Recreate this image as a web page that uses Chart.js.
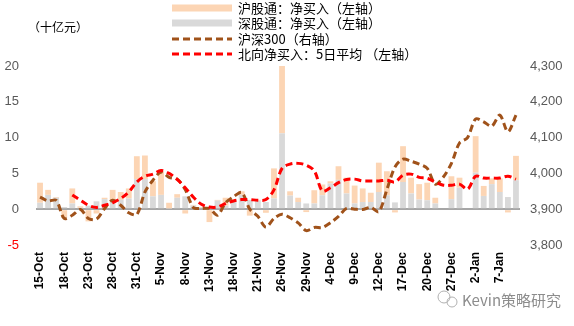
<!DOCTYPE html>
<html>
<head>
<meta charset="utf-8">
<script src="https://cdn.jsdelivr.net/npm/chart.js@4.4.0/dist/chart.umd.min.js"></script>
<style>
html, body { margin: 0; padding: 0; background: #fff; }
#wrap { position: relative; width: 574px; height: 326px; }
</style>
</head>
<body>
<div id="wrap"><canvas id="northChart"></canvas></div>
<script>
// Fechas de negociación (Stock Connect abierto)
const fechas = [
  '15-Oct','16-Oct','17-Oct','18-Oct','21-Oct','22-Oct','23-Oct','24-Oct','25-Oct','28-Oct','29-Oct','30-Oct','31-Oct',
  '1-Nov','4-Nov','5-Nov','6-Nov','7-Nov','8-Nov','11-Nov','12-Nov','13-Nov','14-Nov','15-Nov','18-Nov','19-Nov','20-Nov',
  '21-Nov','22-Nov','25-Nov','26-Nov','27-Nov','28-Nov','29-Nov',
  '2-Dec','3-Dec','4-Dec','5-Dec','6-Dec','9-Dec','10-Dec','11-Dec','12-Dec','13-Dec','16-Dec','17-Dec','18-Dec','19-Dec',
  '20-Dec','23-Dec','24-Dec','27-Dec','30-Dec','31-Dec',
  '2-Jan','3-Jan','6-Jan','7-Jan','8-Jan','9-Jan'
];

// 深股通 净买入 (十亿元)
const szNet = [
  0.9, 2.0, 1.6, 0.3, 0.8, 0.2, 0.5, 1.1, 1.4, 1.0, 1.3, 1.5, 4.2,
  4.2, 1.8, 2.0, 0.1, 1.6, 1.8, 0.5, 0.2, 0.1, 1.2, 0.5, 1.3, 2.0, 1.3,
  1.2, 1.0, 1.5, 10.6, 1.9, 1.0, 0.8,
  0.8, 1.95, 3.6, 4.1, 2.2, 0.8, 1.0, 1.0, 2.4, 1.95, 0.95, 3.8, 2.2, 1.35,
  1.25, 0.8, null, 1.4, 3.0, null,
  5.1, 1.85, 3.5, 2.4, 1.7, 4.05
];

// 沪股通 净买入 (十亿元)
const shNet = [
  2.8, 0.7, 0.1, -1.2, 2.1, 0.2, -1.7, -0.6, 0.2, 1.7, 1.1, 1.4, 3.2,
  3.3, 2.1, 3.2, 0.8, 0.5, -0.6, 0.1, 0.1, -1.8, 0.1, 1.1, 0.1, 0.5, -0.9,
  0.1, -0.5, 4.2, 9.4, 0.6, 0.6, -0.4,
  1.85, 1.5, 0.3, 1.9, 2.2, 2.5, 1.9, 1.3, 4.1, 3.35, -0.45, 5.0, 2.2, 2.15,
  2.45, 0.8, null, 3.2, 1.4, null,
  5.1, 1.4, 0.8, 1.9, -0.45, 3.4
];

// 北向净买入 5日平均 (十亿元)
const north5d = [
  null, null, null, null, 2.0, 1.25, 0.55, 0.25, 0.55, 0.9, 1.5, 2.4, 3.8,
  4.6, 4.9, 5.4, 5.0, 4.15, 3.0, 1.7, 0.7, 0.3, 0.3, 0.8, 1.15, 1.35, 1.35,
  1.25, 1.35, 2.7, 5.7, 6.3, 6.4, 6.15,
  5.35, 2.55, 3.0, 3.7, 4.15, 4.2, 3.95, 3.95, 3.95, 4.05, 3.8, 4.75, 4.9, 4.45,
  4.3, 3.8, 3.35, 3.35, 3.5, 2.8,
  4.6, 4.35, 4.35, 4.35, 4.6, 4.2
];

// 沪深300 收盘
const csi300 = [
  3934, 3923, 3925, 3874, 3883, 3899, 3874, 3872, 3902, 3925, 3911, 3890, 3885,
  3948, 3981, 4004, 3989, 3984, 3955, 3905, 3902, 3902, 3883, 3918, 3935, 3947, 3900,
  3880, 3850, 3874, 3886, 3876, 3862, 3840,
  3849, 3849, 3862, 3880, 3902, 3900, 3899, 3905, 3893, 3955, 4018, 4040, 4034, 4026,
  4014, 3970, 3990, 4028, 4085, 4100,
  4152, 4144, 4132, 4163, 4116, 4163
];

const colores = {
  sh: '#FCD5B4',
  sz: '#D9D9D9',
  hs300: '#A0521A',
  norte: '#FF0000'
};

const fuenteCJK = '"Noto Sans CJK SC", "Noto Sans", sans-serif';
const fuenteNum = '"Liberation Sans", Arial, sans-serif';

// Leyenda, unidad y marca de agua dibujadas a mano
const extrasPlugin = {
  id: 'extras',
  afterDraw(chart) {
    const ctx = chart.ctx;
    ctx.save();
    ctx.textBaseline = 'middle';
    ctx.textAlign = 'left';

    ctx.fillStyle = '#000';
    ctx.font = '12px ' + fuenteCJK;
    ctx.fillText('（十亿元）', 28, 27);

    const items = [
      { tipo: 'bar', color: colores.sh, texto: '沪股通：净买入（左轴）' },
      { tipo: 'bar', color: colores.sz, texto: '深股通：净买入（左轴）' },
      { tipo: 'line', color: colores.hs300, texto: '沪深300（右轴）' },
      { tipo: 'line', color: colores.norte, texto: '北向净买入：5日平均 （左轴）' }
    ];
    const filas = [8, 23, 39, 54];
    items.forEach((it, i) => {
      const y = filas[i];
      if (it.tipo === 'bar') {
        ctx.fillStyle = it.color;
        ctx.fillRect(172, y - 3.5, 60, 7);
      } else {
        ctx.strokeStyle = it.color;
        ctx.lineWidth = 3;
        ctx.setLineDash([7, 4]);
        ctx.beginPath();
        ctx.moveTo(172, y);
        ctx.lineTo(232, y);
        ctx.stroke();
        ctx.setLineDash([]);
      }
      ctx.fillStyle = '#000';
      ctx.font = '13px ' + fuenteCJK;
      ctx.fillText(it.texto, 238, y);
    });

    // marca de agua
    ctx.strokeStyle = '#B0B0B0';
    ctx.lineWidth = 1;
    ctx.beginPath();
    ctx.arc(444, 297, 6, 0, Math.PI * 2);
    ctx.stroke();
    ctx.beginPath();
    ctx.arc(452, 302, 5, 0, Math.PI * 2);
    ctx.stroke();
    ctx.fillStyle = '#8C8C8C';
    ctx.font = '15px ' + fuenteCJK;
    ctx.fillText('Kevin策略研究', 462, 300);
    ctx.restore();
  }
};

new Chart(document.getElementById('northChart').getContext('2d'), {
  data: {
    labels: fechas,
    datasets: [
      {
        type: 'line',
        label: '北向净买入：5日平均（左轴）',
        data: north5d,
        yAxisID: 'y',
        borderColor: colores.norte,
        borderWidth: 3,
        borderDash: [7, 4],
        pointRadius: 0,
        tension: 0.35,
        fill: false
      },
      {
        type: 'line',
        label: '沪深300（右轴）',
        data: csi300,
        yAxisID: 'y1',
        borderColor: colores.hs300,
        borderWidth: 3,
        borderDash: [7, 4],
        pointRadius: 0,
        tension: 0.3,
        fill: false
      },
      {
        type: 'bar',
        label: '深股通：净买入（左轴）',
        data: szNet,
        yAxisID: 'y',
        stack: 'norte',
        backgroundColor: colores.sz,
        categoryPercentage: 0.8,
        barPercentage: 0.9
      },
      {
        type: 'bar',
        label: '沪股通：净买入（左轴）',
        data: shNet,
        yAxisID: 'y',
        stack: 'norte',
        backgroundColor: colores.sh,
        categoryPercentage: 0.8,
        barPercentage: 0.9
      }
    ]
  },
  options: {
    responsive: true,
    maintainAspectRatio: false,
    animation: false,
    layout: { padding: { top: 66, left: 0, right: 0, bottom: 0 } },
    plugins: {
      legend: { display: false },
      tooltip: { enabled: false }
    },
    scales: {
      x: {
        stacked: true,
        grid: { display: false, drawTicks: false },
        border: { display: false },
        ticks: {
          autoSkip: false,
          maxRotation: 90,
          minRotation: 90,
          padding: 7,
          color: '#000',
          font: { family: fuenteNum, size: 12, weight: 'bold' },
          callback: (val, idx) => (idx % 3 === 0 ? fechas[idx] : '')
        },
        afterFit: (scale) => { scale.height = 81; }
      },
      y: {
        position: 'left',
        stacked: true,
        min: -5,
        max: 20,
        grid: {
          drawTicks: false,
          lineWidth: 2,
          color: (c) => (c.tick && c.tick.value === 0 ? '#A6A6A6' : 'rgba(0,0,0,0)')
        },
        border: { display: false },
        ticks: {
          stepSize: 5,
          padding: 17,
          font: { family: fuenteNum, size: 13 },
          color: (c) => (c.tick && c.tick.value < 0 ? '#FF0000' : '#595959')
        },
        afterFit: (scale) => { scale.width = 36; }
      },
      y1: {
        position: 'right',
        min: 3800,
        max: 4300,
        grid: { display: false, drawTicks: false },
        border: { display: false },
        ticks: {
          stepSize: 100,
          padding: 10,
          font: { family: fuenteNum, size: 13 },
          color: '#595959',
          callback: (v) => v.toLocaleString('en-US')
        },
        afterFit: (scale) => { scale.width = 54; }
      }
    }
  },
  plugins: [extrasPlugin]
});
</script>
</body>
</html>
